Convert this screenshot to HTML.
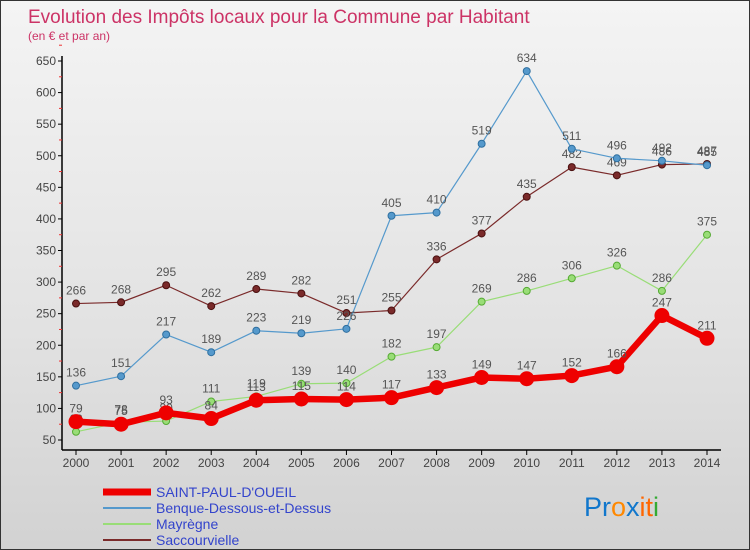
<!DOCTYPE html>
<html><head><meta charset="utf-8"><style>
body{margin:0}
#c{width:750px;height:550px;position:relative;overflow:hidden;font-family:"Liberation Sans",sans-serif;background:linear-gradient(180deg,#f4f4f4 0%,#e2e2e2 60%,#d2d2d2 100%);box-sizing:border-box;border:1px solid #333}
</style></head><body>
<div id="c">
<svg id="s" width="750" height="550" xmlns="http://www.w3.org/2000/svg" style="position:absolute;left:0;top:0"></svg>
</div>
<script>
const years=["2000","2001","2002","2003","2004","2005","2006","2007","2008","2009","2010","2011","2012","2013","2014"];
const spo=[79,75,93,84,113,115,114,117,133,149,147,152,166,247,211];
const benque=[136,151,217,189,223,219,226,405,410,519,634,511,496,492,485];
const mayregne=[63,78,80,111,119,139,140,182,197,269,286,306,326,286,375];
const sacc=[266,268,295,262,289,282,251,255,336,377,435,482,469,486,487];
const yTicks=[50,100,150,200,250,300,350,400,450,500,550,600,650];
const NS="http://www.w3.org/2000/svg";
const s=document.getElementById('s');
const X=i=>75+i*(706-75)/14;
const Y=v=>439-(v-50)*(379/600);
function el(t,a,p){const e=document.createElementNS(NS,t);for(const k in a)e.setAttribute(k,a[k]);(p||s).appendChild(e);return e;}
let t=el('text',{x:27,y:22,fill:'#cc3366','font-size':19});t.textContent='Evolution des Impôts locaux pour la Commune par Habitant';

t=el('text',{x:27,y:39,fill:'#cc3366','font-size':12});t.textContent='(en € et par an)';

let a=el('line',{x1:61,y1:55,x2:61,y2:449,stroke:'#000','stroke-width':1.5});

a=el('line',{x1:61,y1:449,x2:720,y2:449,stroke:'#000','stroke-width':1.5});

yTicks.forEach(v=>{
 el('line',{x1:57,y1:Y(v),x2:61,y2:Y(v),stroke:'#000'});
 el('line',{x1:58,y1:Y(v+25),x2:61,y2:Y(v+25),stroke:'#e33'});
 const l=el('text',{x:55,y:Y(v)+4,'text-anchor':'end','font-size':12,fill:'#444'});l.textContent=v;
 
});
years.forEach((y,i)=>{
 el('line',{x1:X(i),y1:449,x2:X(i),y2:454,stroke:'#000'});
 const l=el('text',{x:X(i),y:466,'text-anchor':'middle','font-size':12,fill:'#444'});l.textContent=y;
 
});
function series(data,color,w,r,name,dot){
 const g=el('g',{});
 el('polyline',{points:data.map((v,i)=>X(i)+','+Y(v)).join(' '),fill:'none',stroke:color,'stroke-width':w,'stroke-linejoin':'round'},g);
 data.forEach((v,i)=>{
  const c=el('circle',{cx:X(i),cy:Y(v),r:r,fill:color,stroke:dot,'stroke-width':1},g);
  
  const l=el('text',{x:X(i),y:Y(v)-9,'text-anchor':'middle','font-size':12,fill:'#555'},g);l.textContent=v;
 });
}
series(sacc,'#7a2a2a',1.2,3.5,'series-saccourvielle','#4a1010');
series(benque,'#5599cc',1.2,3.5,'series-benque','#2f6f9f');
series(mayregne,'#99dd77',1.2,3.5,'series-mayregne','#55aa33');
series(spo,'#ee0000',6.5,7,'series-saint-paul','#ee0000');
const leg=[['SAINT-PAUL-D\'OUEIL','#ee0000',7],['Benque-Dessous-et-Dessus','#5599cc',2],['Mayrègne','#99dd77',2],['Saccourvielle','#7a2a2a',2]];
leg.forEach((d,i)=>{
 const g=el('g',{});
 const yy=491+i*16;
 el('line',{x1:102,y1:yy,x2:150,y2:yy,stroke:d[1],'stroke-width':d[2]},g);
 const l=el('text',{x:155,y:yy+5,'font-size':14,fill:'#3344cc'},g);l.textContent=d[0];
});
const lg=el('text',{x:583,y:515,'font-size':27});

[['Pr','#1177cc'],['o','#ff8800'],['x','#1177cc'],['i','#ff6600'],['t','#ff6600'],['i','#33aa33']].forEach(p=>{const ts=el('tspan',{fill:p[1]},lg);ts.textContent=p[0];});
</script>
</body></html>
